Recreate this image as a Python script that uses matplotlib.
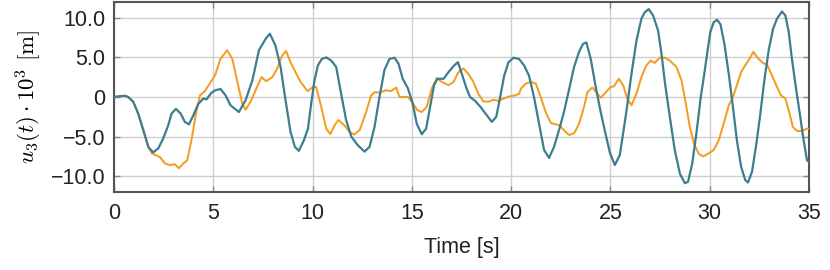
import numpy as np
import matplotlib
matplotlib.use("Agg")
import matplotlib.pyplot as plt

# time samples [s] and displacement u3 * 1e3 [m]
t_teal = [0.0, 0.3, 0.55, 0.72, 0.97, 1.22, 1.48, 1.73, 1.97, 2.23, 2.48, 2.73, 2.9, 3.12,
          3.36, 3.57, 3.78, 4.0, 4.24, 4.5, 4.66, 4.9, 5.1, 5.37, 5.62, 5.87, 6.29, 6.63,
          6.97, 7.3, 7.64, 7.85, 8.13, 8.39, 8.64, 8.89, 9.11, 9.31, 9.56, 9.77, 9.93,
          10.1, 10.27, 10.47, 10.69, 10.94, 11.19, 11.44, 11.69, 11.95, 12.28, 12.62,
          12.87, 13.12, 13.37, 13.62, 13.87, 14.13, 14.33, 14.54, 14.8, 15.02, 15.25,
          15.5, 15.72, 15.92, 16.12, 16.29, 16.6, 16.85, 17.1, 17.32, 17.52, 17.73,
          17.93, 18.19, 18.44, 18.77, 19.03, 19.25, 19.45, 19.65, 19.87, 20.12, 20.4,
          20.65, 20.9, 21.15, 21.41, 21.66, 21.91, 22.16, 22.41, 22.66, 22.91, 23.17,
          23.42, 23.62, 23.79, 24.01, 24.26, 24.51, 24.74, 24.97, 25.22, 25.47, 25.64,
          25.8, 26.06, 26.31, 26.56, 26.73, 26.93, 27.15, 27.4, 27.57, 27.74, 27.99,
          28.24, 28.5, 28.75, 28.91, 29.12, 29.33, 29.55, 29.72, 29.9, 30.03, 30.2,
          30.37, 30.54, 30.74, 30.96, 31.17, 31.37, 31.58, 31.79, 31.93, 32.13, 32.35,
          32.55, 32.75, 32.97, 33.19, 33.39, 33.64, 33.81, 33.98, 34.14, 34.36, 34.56,
          34.73, 34.9, 35.0]
u_teal = [0.0, 0.1, 0.15, 0.0, -0.6, -2.1, -4.2, -6.3, -7.0, -6.5, -5.25, -3.6, -2.1, -1.5,
          -2.1, -3.15, -3.45, -2.3, -0.9, -0.2, -0.3, 0.5, 0.85, 1.0, 0.2, -1.05, -1.9, -0.4,
          2.1, 5.9, 7.35, 8.0, 6.5, 3.8, -0.4, -4.4, -6.3, -6.8, -5.5, -4.0, -0.85,
          2.1, 4.0, 4.8, 5.0, 4.6, 3.8, 0.4, -2.9, -5.0, -6.1, -6.9,
          -6.3, -3.8, 0.0, 3.4, 4.8, 4.96, 4.2, 2.3, 1.1, -0.6, -3.4,
          -4.7, -4.0, -1.26, 1.5, 2.3, 2.3, 3.15, 3.9, 4.4, 2.9, 1.26,
          0.0, -0.5, -1.2, -2.3, -3.15, -2.5, 0.0, 2.7, 4.4, 4.96, 4.8,
          4.0, 2.7, 0.0, -3.4, -6.7, -7.7, -6.3, -4.2, -1.9, 0.85, 3.8,
          5.7, 6.7, 6.9, 4.8, 1.26, -1.9, -4.5, -7.0, -8.6, -7.35, -4.6,
          -1.9, 2.9, 7.1, 9.9, 10.7, 11.1, 10.3, 8.4, 5.5, 1.9, -2.5,
          -6.7, -9.7, -10.9, -10.7, -8.4, -4.6, 0.0, 2.8, 6.0, 8.2, 9.45,
          9.75, 9.2, 6.7, 2.9, -1.26, -5.5, -8.8, -10.5, -10.8, -9.45, -5.9,
          -2.1, 2.1, 5.9, 8.6, 9.9, 10.8, 10.3, 8.2, 4.8, 0.85, -2.5,
          -5.5, -8.0, -8.2]

t_orange = [0.0, 0.3, 0.55, 0.72, 0.97, 1.22, 1.48, 1.73, 1.9, 2.32, 2.57, 2.82, 3.07, 3.27,
            3.49, 3.69, 3.9, 4.13, 4.33, 4.58, 4.8, 5.1, 5.36, 5.7, 5.96, 6.2, 6.46, 6.63,
            6.88, 7.2, 7.43, 7.67, 7.97, 8.22, 8.47, 8.67, 8.89, 9.14, 9.4, 9.75, 10.05,
            10.18, 10.44, 10.69, 10.9, 11.1, 11.3, 11.61, 11.86, 12.1, 12.37, 12.7, 12.95,
            13.12, 13.37, 13.7, 13.96, 14.21, 14.38, 14.8, 15.03, 15.27, 15.5, 15.75, 16.0,
            16.26, 16.51, 16.85, 17.1, 17.35, 17.6, 17.85, 18.1, 18.35, 18.6, 18.86, 19.11,
            19.36, 19.61, 19.95, 20.2, 20.4, 20.49, 20.74, 20.99, 21.24, 21.49, 21.74, 22.0,
            22.25, 22.45, 22.66, 22.91, 23.17, 23.42, 23.67, 23.84, 24.09, 24.29, 24.51,
            24.74, 25.0, 25.18, 25.42, 25.64, 25.85, 26.06, 26.31, 26.56, 26.81, 27.03,
            27.23, 27.48, 27.74, 27.99, 28.32, 28.58, 28.8, 29.0, 29.21, 29.45, 29.68,
            29.93, 30.2, 30.45, 30.7, 30.96, 31.17, 31.37, 31.58, 31.79, 32.0, 32.2, 32.4,
            32.68, 32.88, 33.14, 33.39, 33.59, 33.81, 33.98, 34.19, 34.4, 34.65, 34.9, 35.0]
u_orange = [0.0, 0.1, 0.15, 0.0, -0.6, -2.1, -4.2, -6.3, -7.1, -7.6, -8.4, -8.6, -8.5, -9.0,
            -8.4, -8.0, -5.5, -2.1, 0.2, 0.75, 1.6, 2.8, 4.8, 5.9, 4.8, 2.1, -0.85, -1.6,
            -0.6, 1.26, 2.5, 2.0, 2.5, 3.6, 5.25, 5.8, 4.4, 3.15, 1.9, 0.75, 1.3,
            1.26, -1.26, -4.0, -4.7, -3.6, -2.9, -3.6, -4.4, -4.75, -4.2, -1.9, 0.2,
            0.6, 0.55, 0.85, 0.75, 1.2, 0.0, 0.0, -0.7, -1.65, -1.9, -1.26, 1.05,
            2.4, 1.9, 1.5, 1.9, 3.15, 3.6, 2.9, 1.9, 0.4, -0.55, -0.6, -0.35,
            -0.5, -0.2, 0.1, 0.2, 0.4, 1.05, 1.7, 1.9, 1.7, 0.0, -1.9, -3.3,
            -3.45, -3.6, -4.2, -4.8, -4.6, -3.4, -1.26, 0.6, 1.2, 0.6, -0.1,
            0.5, 1.25, 1.35, 2.3, 1.5, -0.2, -1.05, 0.4, 2.5, 4.0, 4.6,
            4.3, 4.96, 4.96, 4.6, 3.8, 2.1, -0.85, -3.8, -5.9, -7.2, -7.5,
            -7.15, -6.7, -5.5, -3.4, -1.05, 0.0, 1.5, 3.15, 4.0, 4.8, 5.7, 4.96,
            4.3, 4.1, 2.7, 1.26, 0.2, -0.2, -1.7, -3.8, -4.3, -4.3, -4.0, -4.0]

x_ticks = [0, 5, 10, 15, 20, 25, 30, 35]
y_ticks = [-10, -5, 0, 5, 10]
y_labels = ["\u221210.0", "\u22125.0", "0", "5.0", "10.0"]

teal = "#3c7d90"
orange = "#f59d22"

plt.rcParams["font.family"] = ["Liberation Sans", "DejaVu Sans"]
plt.rcParams["mathtext.fontset"] = "cm"

fig = plt.figure(figsize=(8.3, 2.7), dpi=100)
ax = fig.add_axes([0.1373, 0.289, 0.8374, 0.7036])

ax.plot(t_orange, u_orange, color=orange, lw=1.45, zorder=3, solid_joinstyle="round")
ax.plot(t_teal, u_teal, color=teal, lw=1.6, zorder=4, solid_joinstyle="round")

ax.set_xlim(0, 35)
ax.set_ylim(-12, 12)
ax.set_xticks(x_ticks)
ax.set_yticks(y_ticks)
ax.set_yticklabels(y_labels)
ax.grid(True, color="#cfcfcf", lw=1.0, zorder=0)
ax.set_axisbelow(True)
ax.tick_params(direction="in", length=4, width=1.0, color="#888888",
               top=True, right=True, labelsize=15.5, labelcolor="#222222")
ax.tick_params(axis="x", pad=8)
ax.tick_params(axis="y", pad=6)
for s in ax.spines.values():
    s.set_color("#555555")
    s.set_linewidth(1.5)

ax.set_xlabel("Time [s]", fontsize=15.5, labelpad=9, color="#222222")
ax.set_ylabel(r"$u_3(t)\cdot 10^3\ [\mathrm{m}]$", fontsize=16.5, labelpad=5)

fig.savefig("out.png", dpi=100)
